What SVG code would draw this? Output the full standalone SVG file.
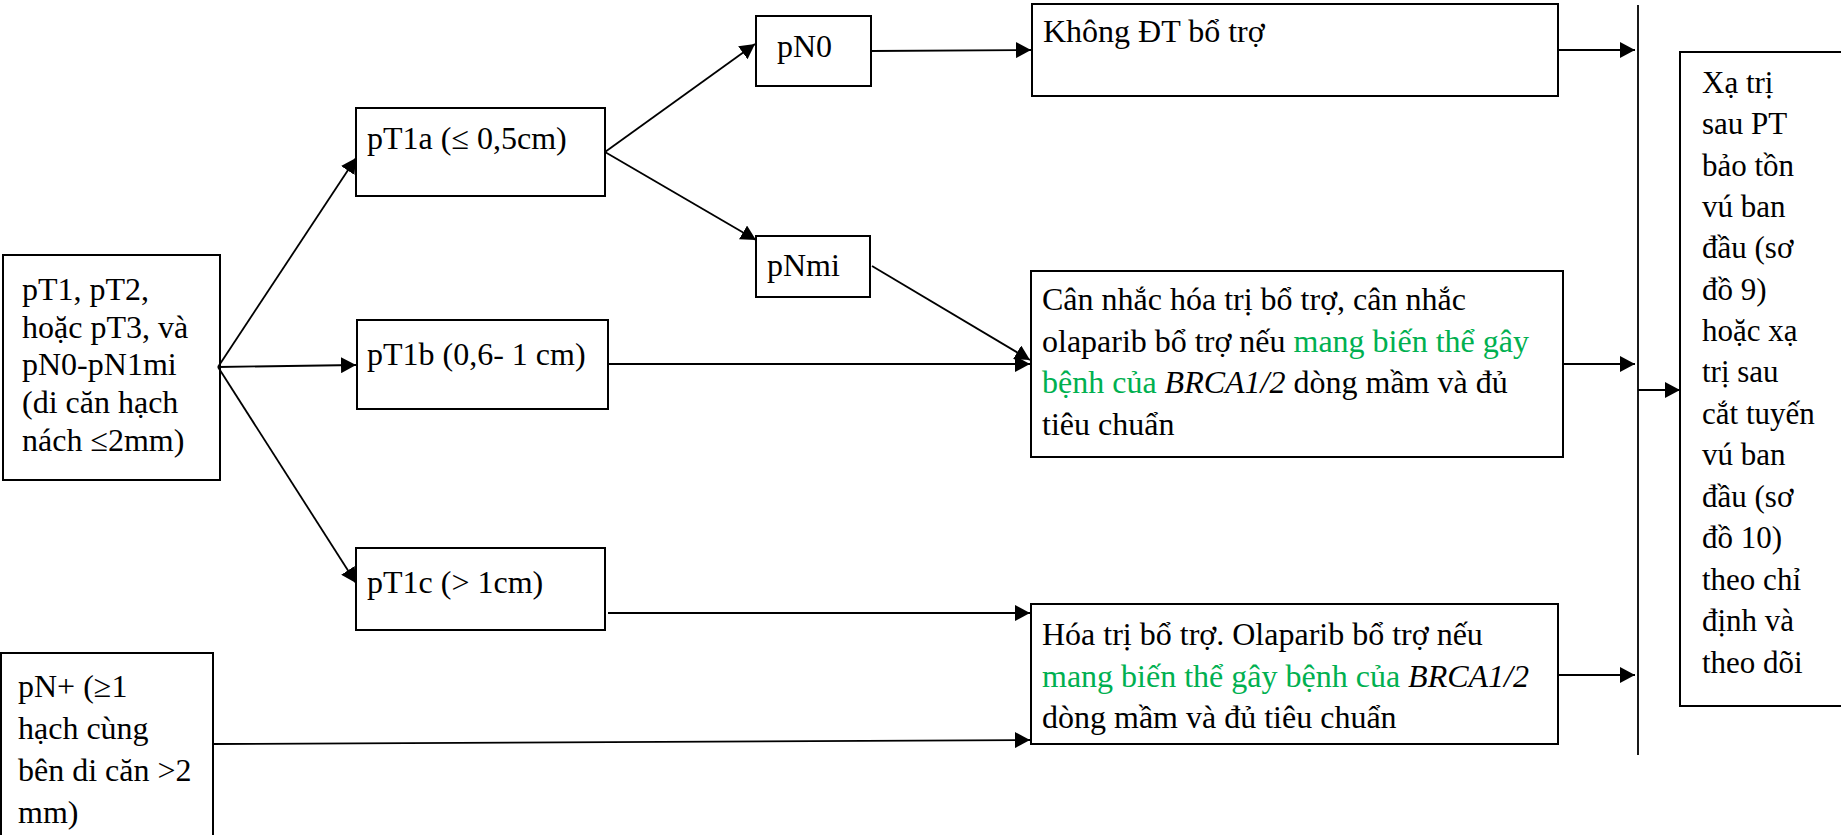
<svg xmlns="http://www.w3.org/2000/svg" width="1841" height="835" viewBox="0 0 1841 835">
<defs>
<marker id="ah" markerUnits="userSpaceOnUse" markerWidth="16" markerHeight="16" refX="15" refY="8" orient="auto">
<path d="M0,0 L15,8 L0,16 z" fill="#000"/>
</marker>
<style>
.box{fill:#fff;stroke:#000;stroke-width:2}
.t{font-family:"Liberation Serif","Times New Roman",serif;font-size:32px;fill:#000}
.tx{font-family:"Liberation Serif","Times New Roman",serif;font-size:31px;fill:#000}
.g{fill:#00B050}
.i{font-style:italic}
.c line{stroke:#000;stroke-width:1.8;marker-end:url(#ah)}
</style>
</defs>
<rect width="1841" height="835" fill="#fff"/>
<g id="n1">
<rect class="box" x="3" y="255" width="217" height="225"/>
<text class="t"><tspan x="22" y="300">pT1, pT2,</tspan><tspan x="22" y="338">hoặc pT3, và</tspan><tspan x="22" y="375">pN0-pN1mi</tspan><tspan x="22" y="413">(di căn hạch</tspan><tspan x="22" y="451">nách ≤2mm)</tspan></text>
</g>
<g id="n2">
<rect class="box" x="1" y="653" width="212" height="200"/>
<text class="t"><tspan x="18" y="697">pN+ (≥1</tspan><tspan x="18" y="739">hạch cùng</tspan><tspan x="18" y="781">bên di căn &gt;2</tspan><tspan x="18" y="823">mm)</tspan></text>
</g>
<g id="pT1a">
<rect class="box" x="356" y="108" width="249" height="88"/>
<text class="t" x="367" y="149">pT1a (≤ 0,5cm)</text>
</g>
<g id="pT1b">
<rect class="box" x="357" y="320" width="251" height="89"/>
<text class="t" x="367" y="365">pT1b (0,6- 1 cm)</text>
</g>
<g id="pT1c">
<rect class="box" x="356" y="548" width="249" height="82"/>
<text class="t" x="367" y="593">pT1c (&gt; 1cm)</text>
</g>
<g id="pN0">
<rect class="box" x="756" y="16" width="115" height="70"/>
<text class="t" x="777" y="57">pN0</text>
</g>
<g id="pNmi">
<rect class="box" x="756" y="236" width="114" height="61"/>
<text class="t" x="767" y="276">pNmi</text>
</g>
<g id="khong">
<rect class="box" x="1032" y="4" width="526" height="92"/>
<text class="t" x="1043" y="42">Không ĐT bổ trợ</text>
</g>
<g id="cannhac">
<rect class="box" x="1031" y="271" width="532" height="186"/>
<text class="t"><tspan x="1042" y="310">Cân nhắc hóa trị bổ trợ, cân nhắc</tspan><tspan x="1042" y="352">olaparib bổ trợ nếu <tspan class="g">mang biến thể gây</tspan></tspan><tspan x="1042" y="393"><tspan class="g">bệnh của </tspan><tspan class="i">BRCA1/2</tspan> dòng mầm và đủ</tspan><tspan x="1042" y="435">tiêu chuẩn</tspan></text>
</g>
<g id="hoatri">
<rect class="box" x="1031" y="604" width="527" height="140"/>
<text class="t"><tspan x="1042" y="645">Hóa trị bổ trợ. Olaparib bổ trợ nếu</tspan><tspan x="1042" y="687"><tspan class="g">mang biến thể gây bệnh của </tspan><tspan class="i">BRCA1/2</tspan></tspan><tspan x="1042" y="728">dòng mầm và đủ tiêu chuẩn</tspan></text>
</g>
<g id="xatri">
<rect class="box" x="1680" y="52" width="200" height="654"/>
<text class="tx"><tspan x="1702" y="93">Xạ trị</tspan><tspan x="1702" y="134">sau PT</tspan><tspan x="1702" y="176">bảo tồn</tspan><tspan x="1702" y="217">vú ban</tspan><tspan x="1702" y="258">đầu (sơ</tspan><tspan x="1702" y="300">đồ 9)</tspan><tspan x="1702" y="341">hoặc xạ</tspan><tspan x="1702" y="382">trị sau</tspan><tspan x="1702" y="424">cắt tuyến</tspan><tspan x="1702" y="465">vú ban</tspan><tspan x="1702" y="507">đầu (sơ</tspan><tspan x="1702" y="548">đồ 10)</tspan><tspan x="1702" y="590">theo chỉ</tspan><tspan x="1702" y="631">định và</tspan><tspan x="1702" y="673">theo dõi</tspan></text>
</g>
<g id="connectors" class="c">
<line x1="218" y1="367" x2="356" y2="158"/>
<line x1="218" y1="367" x2="356" y2="365"/>
<line x1="218" y1="367" x2="356" y2="583"/>
<line x1="605" y1="152" x2="755" y2="44"/>
<line x1="605" y1="152" x2="756" y2="240"/>
<line x1="871" y1="51" x2="1031" y2="50"/>
<line x1="872" y1="266" x2="1030" y2="360"/>
<line x1="608" y1="364" x2="1030" y2="364"/>
<line x1="608" y1="613" x2="1030" y2="613"/>
<line x1="213" y1="744" x2="1030" y2="740"/>
<line x1="1558" y1="50" x2="1635" y2="50"/>
<line x1="1563" y1="364" x2="1635" y2="364"/>
<line x1="1558" y1="675" x2="1635" y2="675"/>
<line x1="1638" y1="390" x2="1680" y2="390"/>
<line x1="1638" y1="5" x2="1638" y2="755" style="marker-end:none"/>
</g>
</svg>
